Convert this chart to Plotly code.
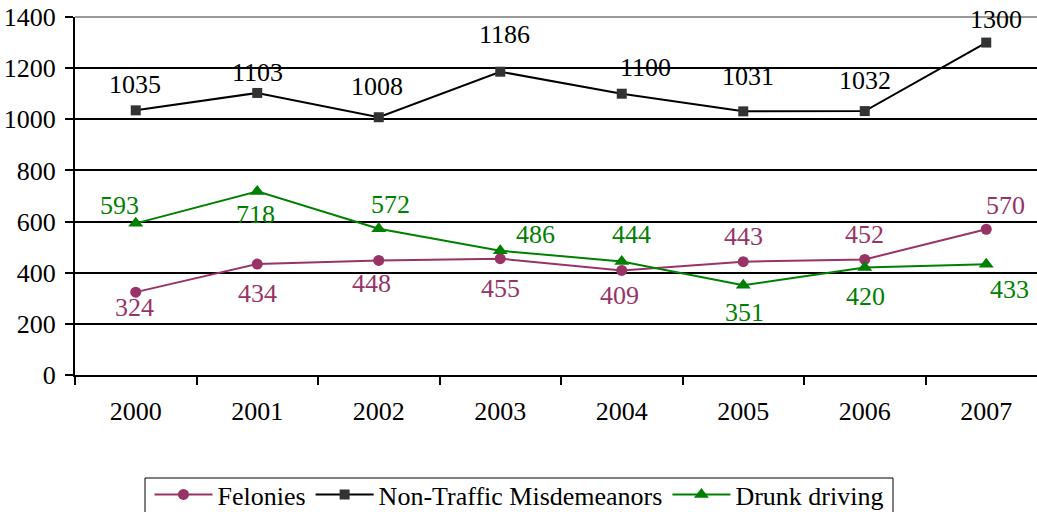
import plotly.graph_objects as go

years = ["2000", "2001", "2002", "2003", "2004", "2005", "2006", "2007"]
felonies = [324, 434, 448, 455, 409, 443, 452, 570]
misdemeanors = [1035, 1103, 1008, 1186, 1100, 1031, 1032, 1300]
drunk = [593, 718, 572, 486, 444, 351, 420, 433]
y_ticks = [0, 200, 400, 600, 800, 1000, 1200, 1400]

# label pixel offsets (dx, dy; dy positive = down on screen)
off_fel = [(-1, 15), (0, 29), (-7, 23), (0, 30), (-2, 25), (0, -25), (0, -25), (19, -24)]
off_mis = [(-1, -26), (0, -20), (-2, -31), (4, -37), (24, -26), (5, -35), (0, -31), (10, -23)]
off_drk = [(-16, -18), (-2, 23), (12, -24), (35, -16), (10, -27), (1, 27), (1, 29), (23, 25)]

FONT = "Liberation Serif"
FS = 26
C_FEL = "#993366"
C_MIS = "#000000"
C_MIS_M = "#333333"
C_DRK = "#008000"

W, H = 1037, 512
ML, MR, MT, MB = 75, 0, 17, 137
PW, PH = W - ML - MR, H - MT - MB

xs = list(range(len(years)))

fig = go.Figure()
fig.add_trace(go.Scatter(
    x=xs, y=felonies, name="Felonies", mode="lines+markers",
    line=dict(color=C_FEL, width=2),
    marker=dict(symbol="circle", size=11, color=C_FEL)))
fig.add_trace(go.Scatter(
    x=xs, y=misdemeanors, name="Non-Traffic Misdemeanors", mode="lines+markers",
    line=dict(color=C_MIS, width=2),
    marker=dict(symbol="square", size=10, color=C_MIS_M)))
fig.add_trace(go.Scatter(
    x=xs, y=drunk, name="Drunk driving", mode="lines+markers",
    line=dict(color=C_DRK, width=2),
    marker=dict(symbol="triangle-up", size=13, color=C_DRK)))

annotations = []
for vals, offs, col in [(felonies, off_fel, C_FEL), (misdemeanors, off_mis, "#000000"), (drunk, off_drk, C_DRK)]:
    for i, (v, (dx, dy)) in enumerate(zip(vals, offs)):
        annotations.append(dict(
            x=xs[i], y=v, xref="x", yref="y", text=str(v), showarrow=False,
            xanchor="center", yanchor="middle", xshift=dx, yshift=-dy,
            font=dict(family=FONT, size=FS, color=col)))

# legend frame (pixel box 145..893, top 478)
lx0, lx1, ly0, ly1 = 145, 893, 478, 530
legend_box = dict(type="rect", xref="paper", yref="paper",
                  x0=(lx0 - ML) / PW, x1=(lx1 - ML) / PW,
                  y0=(H - MB - ly0) / PH, y1=(H - MB - ly1) / PH,
                  line=dict(color="black", width=1), fillcolor="white", layer="below")

fig.update_layout(
    width=W, height=H,
    margin=dict(l=ML, r=MR, t=MT, b=MB, autoexpand=False),
    paper_bgcolor="white", plot_bgcolor="white",
    font=dict(family=FONT, size=FS, color="black"),
    showlegend=True,
    legend=dict(
        orientation="h", xref="container", yref="container",
        x=519 / W, xanchor="center", y=1 - 471 / H, yanchor="top",
        borderwidth=0, bgcolor="rgba(0,0,0,0)",
        font=dict(family=FONT, size=FS, color="black"),
        itemwidth=58, tracegroupgap=0),
    annotations=annotations,
    shapes=[dict(type="line", xref="paper", yref="paper", x0=0, x1=1, y0=1, y1=1,
                 line=dict(color="#999999", width=2), layer="between"),
            legend_box],
)

fig.update_xaxes(
    type="linear", range=[-0.5, -0.5 + PW / 121.5], automargin=False,
    tickmode="array", tickvals=xs, ticktext=years,
    showgrid=False, zeroline=False,
    showline=True, linecolor="black", linewidth=2,
    ticks="", ticklabelstandoff=12,
    tickfont=dict(family=FONT, size=FS, color="black"),
)
fig.update_xaxes(minor=dict(tickmode="array", tickvals=[i - 0.5 for i in range(len(years) + 1)],
                            ticks="outside", ticklen=8, tickwidth=2, tickcolor="black", showgrid=False))

fig.update_yaxes(
    range=[0, 1400], tickmode="array", tickvals=y_ticks, automargin=False,
    showgrid=True, gridcolor="black", gridwidth=1.5,
    zeroline=False, showline=True, linecolor="black", linewidth=2,
    ticks="outside", ticklen=8, tickwidth=2, tickcolor="black",
    ticklabelstandoff=4,
    tickfont=dict(family=FONT, size=FS, color="black"),
)

fig.write_html("out.html", config={"displayModeBar": False},
               post_script="document.body.style.margin='0';document.body.style.padding='0';")
